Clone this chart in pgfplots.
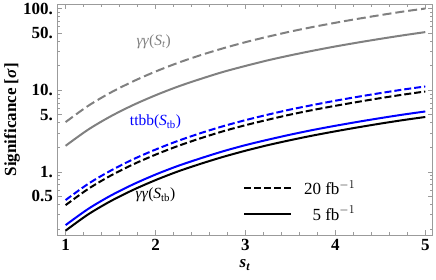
\documentclass[border=0pt]{standalone}
\usepackage{fontspec}
\setmainfont{Liberation Serif}
\usepackage{pgfplots}
\pgfplotsset{compat=1.18}
\definecolor{cgray}{RGB}{128,128,128}
\definecolor{cblue}{RGB}{0,0,255}
\definecolor{frame}{RGB}{155,155,155}
\begin{document}
\begin{tikzpicture}
\begin{axis}[
  scale only axis, width=375pt, height=230.5pt,
  ymode=log, xmin=0.91, xmax=5.08, ymin=0.168, ymax=112,
  axis line style={frame, line width=0.6pt},
  every tick/.style={frame, line width=0.5pt},
  tick align=inside,
  major tick length=5pt, minor tick length=3pt,
  xtick={1,2,3,4,5},
  xticklabels={1,2,3,4,5},
  minor x tick num=4,
  ytick={0.5,1,5,10,50,100},
  yticklabels={0.5,1.,5.,10.,50.,100.},
  minor ytick={0.2,0.3,0.4,0.6,0.7,0.8,0.9,2,3,4,6,7,8,9,20,30,40,60,70,80,90},
  ticklabel style={font=\fontsize{17}{17}\selectfont\bfseries},
  xticklabel style={yshift=-1pt},
  yticklabel style={xshift=-1pt},
  xlabel={\textbf{\textit{s}\textsubscript{\textit{t}}}},
  ylabel={\textbf{Significance [\textit{σ}]}},
  label style={font=\fontsize{17}{17}\selectfont},
  xlabel style={at={(axis description cs:0.5,-0.130)}, anchor=center},
  ylabel style={at={(axis description cs:-0.1213,0.5)}, anchor=center},
  legend style={draw=none, fill=none, at={(0.647,0.147)}, anchor=center,
    font=\fontsize{17}{17}\selectfont, row sep=6pt, column sep=10pt},
  legend cell align=right,
  legend image code/.code={\draw[#1, line width=2pt] (0pt,0pt) -- (47pt,0pt);},
]
\addlegendimage{black, dash pattern=on 7pt off 3pt}
\addlegendentry{20 fb$^{-1}$}
\addlegendimage{black}
\addlegendentry{5 fb$^{-1}$}

\addplot[cgray, line width=2pt, dash pattern=on 9pt off 4pt, smooth, forget plot] coordinates {
(1,4.06) (1.25,6.41) (1.5,9.32) (1.75,12.8) (2,16.9) (2.25,21.6) (2.5,26.8) (2.75,32.5) (3,38.7) (3.25,45.2) (3.5,52.2) (3.75,59.4) (4,66.9) (4.25,74.8) (4.5,83.0) (4.75,91.6) (5,100)};
\addplot[cgray, line width=2pt, smooth, forget plot] coordinates {
(1,2.08) (1.25,3.28) (1.5,4.77) (1.75,6.56) (2,8.65) (2.25,11.06) (2.5,13.7) (2.75,16.7) (3,19.8) (3.25,23.2) (3.5,26.7) (3.75,30.4) (4,34.3) (4.25,38.3) (4.5,42.5) (4.75,46.9) (5,51.4)};
\addplot[cblue, line width=2pt, dash pattern=on 7pt off 3pt, smooth, forget plot] coordinates {
(1,0.45) (1.25,0.71) (1.5,1.03) (1.75,1.42) (2,1.87) (2.25,2.39) (2.5,2.97) (2.75,3.61) (3,4.29) (3.25,5.01) (3.5,5.79) (3.75,6.58) (4,7.42) (4.25,8.29) (4.5,9.20) (4.75,10.15) (5,11.1)};
\addplot[black, line width=2pt, dash pattern=on 7pt off 3pt, smooth, forget plot] coordinates {
(1,0.39) (1.25,0.615) (1.5,0.895) (1.75,1.23) (2,1.62) (2.25,2.07) (2.5,2.57) (2.75,3.13) (3,3.72) (3.25,4.34) (3.5,5.02) (3.75,5.71) (4,6.43) (4.25,7.18) (4.5,7.98) (4.75,8.80) (5,9.63)};
\addplot[cblue, line width=2pt, smooth, forget plot] coordinates {
(1,0.222) (1.25,0.350) (1.5,0.509) (1.75,0.700) (2,0.924) (2.25,1.18) (2.5,1.46) (2.75,1.78) (3,2.12) (3.25,2.47) (3.5,2.85) (3.75,3.25) (4,3.66) (4.25,4.09) (4.5,4.54) (4.75,5.01) (5,5.48)};
\addplot[black, line width=2pt, smooth, forget plot] coordinates {
(1,0.19) (1.25,0.300) (1.5,0.436) (1.75,0.599) (2,0.790) (2.25,1.01) (2.5,1.25) (2.75,1.52) (3,1.81) (3.25,2.12) (3.5,2.44) (3.75,2.78) (4,3.13) (4.25,3.50) (4.5,3.89) (4.75,4.29) (5,4.69)};

\node[cgray, font=\fontsize{15.5}{15.5}\selectfont] at (axis cs:1.98,39) {\textit{γγ}(\textit{S}\textsubscript{\textit{t}})};
\node[cblue, font=\fontsize{15.5}{15.5}\selectfont] at (axis cs:2.0,4.1) {ttbb(\textit{S}\textsubscript{tb})};
\node[black, font=\fontsize{15.5}{15.5}\selectfont] at (axis cs:2.0,0.52) {\textit{γγ}(\textit{S}\textsubscript{tb})};
\coordinate (sw) at (rel axis cs:0,0);
\end{axis}
\pgfresetboundingbox
\path (sw) ++(-57.5pt,-45pt) rectangle ++(436pt,280pt);
\end{tikzpicture}
\end{document}
